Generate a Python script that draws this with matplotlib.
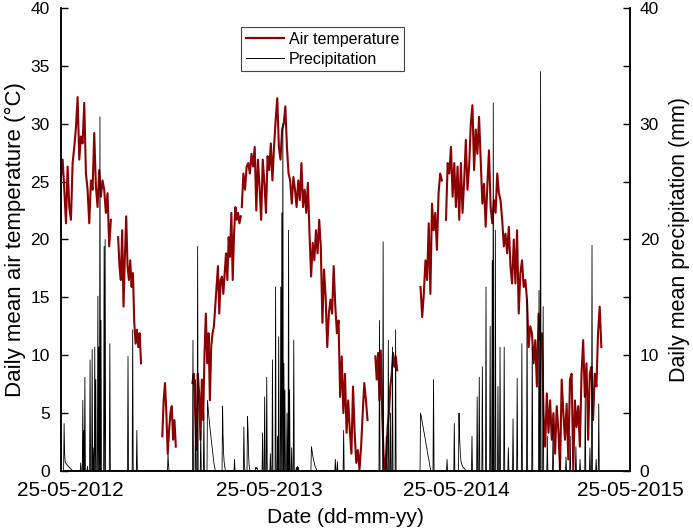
import numpy as np
import matplotlib
matplotlib.use("Agg")
from matplotlib import pyplot as plt
from matplotlib.lines import Line2D

plt.rcParams['font.family'] = ['Liberation Sans', 'DejaVu Sans']

# day index along the record (0 = start of axis), tick labels
tick_days = [17, 402, 761, 1095]
tick_labels = ['25-05-2012', '25-05-2013', '25-05-2014', '25-05-2015']

# air temperature (deg C), one list per continuous run of records: (first day, last day, values)
temp_2012a = (0, 96, [25.4, 26.9, 24.3, 21.4, 26.3, 22.8, 21.7, 26.6, 28.0, 29.7, 32.3,
                      26.9, 28.9, 28.3, 31.8, 25.7, 24.3, 21.4, 25.1, 24.3, 29.2, 24.6,
                      22.8, 26.0, 23.7, 25.1, 24.3, 22.3, 24.0, 19.4, 21.7])
temp_2012b = (110, 154, [20.2, 17.7, 16.5, 20.8, 14.2, 18.5, 22.0, 17.7, 16.5, 18.2,
                         15.9, 17.1, 12.8, 11.0, 12.2, 10.7, 11.9, 9.3])
temp_2012c = (195, 221, [3.0, 6.1, 7.6, 5.0, 1.5, 3.5, 5.0, 5.6, 2.7, 4.4, 2.1])
temp_2013a = (253, 346, [7.6, 8.4, 5.0, 1.8, 8.4, 6.7, 2.7, 7.9, 4.4, 10.2, 13.6, 9.3,
                         11.9, 6.1, 10.8, 11.9, 12.5, 14.2, 15.9, 17.7, 13.6, 16.5, 16.8,
                         15.3, 17.1, 18.8, 16.5, 20.2, 18.5, 22.3, 16.5, 20.5, 22.8, 21.7,
                         22.3, 21.4, 22.0])
temp_2013b = (348, 590, [22.8, 25.7, 24.3, 26.3, 26.6, 25.7, 27.4, 26.3, 28.0, 22.5, 26.9,
                         24.6, 21.7, 26.9, 24.9, 22.3, 27.2, 26.0, 28.3, 25.1, 28.0, 30.3,
                         32.2, 28.0, 26.9, 29.5, 30.0, 31.5, 28.0, 25.7, 25.1, 23.1, 25.4,
                         24.3, 22.8, 25.1, 23.4, 26.6, 22.8, 24.3, 22.3, 24.9, 20.5, 16.8,
                         19.7, 18.2, 20.8, 18.8, 21.7, 19.4, 12.8, 17.4, 15.1, 10.7, 13.6,
                         14.8, 13.6, 17.7, 14.2, 11.9, 13.0, 6.4, 9.9, 5.0, 8.4, 3.3, 6.1,
                         3.5, 1.5, 7.3, 3.3, 0.7, 1.8, 0.1, 2.1, 5.0, 7.6, 6.1, 4.4])
temp_2013c = (605, 647, [9.9, 7.9, 10.2, 6.1, 10.4, 5.0, 1.5, 0.1, 1.2, 3.8, 5.0, 7.3,
                         8.4, 10.2, 9.0, 9.9, 8.7])
temp_2014a = (692, 733, [15.9, 13.3, 15.3, 18.2, 16.5, 21.4, 15.3, 23.1, 20.8, 22.3, 19.1,
                         24.0, 25.7, 25.1])
temp_2014b = (741, 1040, [21.7, 26.6, 25.7, 28.0, 23.7, 26.6, 22.8, 26.3, 21.7, 26.6, 22.3,
                          25.1, 28.6, 24.3, 26.3, 30.0, 31.6, 26.0, 29.5, 27.4, 30.6, 26.9,
                          23.1, 24.8, 21.1, 24.6, 27.7, 22.8, 21.4, 23.4, 22.3, 25.7, 24.0,
                          23.4, 21.7, 19.4, 20.5, 18.8, 21.1, 17.7, 16.2, 20.0, 16.2, 20.8,
                          13.6, 17.1, 18.2, 15.9, 16.5, 14.8, 10.7, 12.5, 11.9, 9.3, 11.3,
                          7.3, 13.6, 11.3, 11.9, 5.0, 2.1, 6.7, 3.3, 6.1, 2.7, 5.0, 1.5, 5.6,
                          3.5, 0.1, 7.9, 5.0, 2.7, 5.8, 1.0, 7.9, 8.4, 0.1, 6.1, 3.8, 5.6,
                          2.1, 8.4, 11.3, 6.4, 9.3, 2.7, 8.4, 9.0, 4.4, 8.4, 7.3, 11.9, 14.2,
                          10.7])
temp_runs = [temp_2012a, temp_2012b, temp_2012c, temp_2013a, temp_2013b, temp_2013c,
             temp_2014a, temp_2014b]

# daily precipitation (mm): first day of a rainy spell -> values on consecutive days
precip_last_day = 1040
precip_spells = {
    6: [4.1, 1.5, 0.8, 0.7, 0.6, 0.6, 0.5, 0.5, 0.4, 0.4, 0.3, 0.3, 0.2, 0.2, 0.1, 0.1],
    38: [0.7], 42: [6.1, 0, 3.5, 0, 8.1], 51: [0.4], 56: [9.6], 60: [10.5, 0, 2.0],
    65: [10.7, 0, 7.9], 71: [15.1, 0, 10.7, 0, 30.6, 0, 13.0], 83: [19.4, 0, 20.0],
    94: [11.0], 129: [9.9], 138: [12.2], 146: [3.5], 206: [1.5, 0.5],
    254: [11.3], 259: [7.9], 263: [19.4], 269: [3.5], 275: [5.0],
    282: [6.1, 5.5, 5.0, 4.5, 4.0, 3.6, 3.2, 2.8, 2.4, 2.0, 1.6, 1.2, 0.8, 0.5, 0.3],
    311: [5.6, 3.0, 1.5, 0.8, 0.4, 0.2], 334: [1.0], 352: [3.8, 0.5],
    359: [4.7, 3.5, 1.5, 0.5, 0.2], 375: [0.3, 0.2, 0.3, 0.2], 388: [3.3], 392: [6.4],
    396: [8.1], 403: [1.5], 407: [9.6], 413: [15.9], 417: [3.0], 419: [11.6],
    423: [15.9, 0, 22.3, 0, 30.0, 0, 9.3, 0, 7.0], 435: [5.0], 438: [20.8, 0, 7.0],
    444: [2.0], 448: [11.3], 453: [0.3, 0, 0.4, 0, 0.3],
    482: [2.1, 1.8, 1.5, 1.2, 1.0, 0.8, 0.6, 0.4, 0.3, 0.2, 0.1],
    528: [1.0], 532: [0.8], 544: [3.5], 613: [13.0], 620: [19.8], 626: [3.0], 630: [11.3],
    634: [5.0], 638: [10.7], 644: [12.2],
    692: [5.0, 4.8, 4.6, 4.3, 4.0, 3.8, 3.5, 3.3, 3.0, 2.8, 2.5, 2.2, 2.0, 1.7, 1.4, 1.2,
          1.0, 0.7, 0.4, 0.2],
    717: [7.9], 743: [1.0], 757: [4.1],
    766: [5.0, 3.0, 2.0, 1.2, 0.8, 0.6, 0.5, 0.4, 0.3, 0.3, 0.2, 0.2, 0.1],
    791: [3.0], 801: [6.4], 805: [8.1], 811: [9.0], 818: [15.9], 826: [12.5],
    830: [18.2, 0, 31.8, 0, 0, 0, 20.8], 841: [7.3], 845: [10.7], 853: [10.7], 861: [2.0],
    870: [4.5], 878: [8.0], 887: [11.0], 897: [14.8], 907: [10.7],
    920: [15.6, 0, 0, 34.5], 928: [14.2], 936: [3.0], 947: [4.0], 960: [1.5], 972: [1.2],
    980: [3.0], 991: [2.1], 999: [1.0], 1009: [6.7], 1018: [2.0], 1022: [19.5],
    1030: [1.0], 1035: [5.8],
}

# --- assemble series ---
t_day, t_val = [], []
for first, last, vals in temp_runs:
    t_day.extend(np.linspace(first, last, len(vals)))
    t_val.extend(vals)
    t_day.append(np.nan)
    t_val.append(np.nan)

p_day = np.arange(precip_last_day + 1)
p_val = np.zeros(precip_last_day + 1)
for first, vals in precip_spells.items():
    p_val[first:first + len(vals)] = vals

red = '#8b0000'

fig = plt.figure(figsize=(6.93, 5.32), dpi=100)
ax = fig.add_axes([0.088, 0.1147, 0.821, 0.8703])
ax2 = ax.twinx()

ax.plot(t_day, t_val, color=red, lw=1.5)
ax2.plot(p_day, p_val, color='black', lw=0.6)

ax.set_xlim(0, 1095)
ax.set_ylim(0, 40)
ax2.set_ylim(0, 40)

ax.set_xticks(tick_days)
ax.set_xticklabels(tick_labels, fontsize=15)
ax.tick_params(axis='x', length=0, pad=7)
ax.set_yticks(np.arange(0, 41, 5))
ax.tick_params(axis='y', direction='in', length=5, width=1, labelsize=12.5, pad=8)
ax2.set_yticks(np.arange(0, 41, 10))
ax2.set_yticks(np.arange(5, 40, 10), minor=True)
ax2.tick_params(axis='y', which='both', direction='in', length=5, width=1,
                labelsize=12.5, pad=7)

for a in (ax, ax2):
    a.spines['top'].set_visible(False)
    for s in ('left', 'right', 'bottom'):
        a.spines[s].set_linewidth(1.1)

ax.set_xlabel('Date (dd-mm-yy)', fontsize=15, labelpad=6)
ax.set_ylabel('Daily mean air temperature (°C)', fontsize=16, labelpad=3)
ax2.set_ylabel('Daily mean precipitation (mm)', fontsize=15.5, labelpad=7)

handles = [Line2D([], [], color=red, lw=1.6), Line2D([], [], color='black', lw=0.7)]
leg = ax2.legend(handles, ['Air temperature', 'Precipitation'], loc='upper left',
                 bbox_to_anchor=(0.316, 0.959), borderaxespad=0, fontsize=11.5,
                 fancybox=False, framealpha=1, edgecolor='#444444',
                 handlelength=2.4, handletextpad=0.3, labelspacing=0.3, borderpad=0.3)
leg.get_frame().set_linewidth(0.8)

fig.savefig('out.png', dpi=100)
